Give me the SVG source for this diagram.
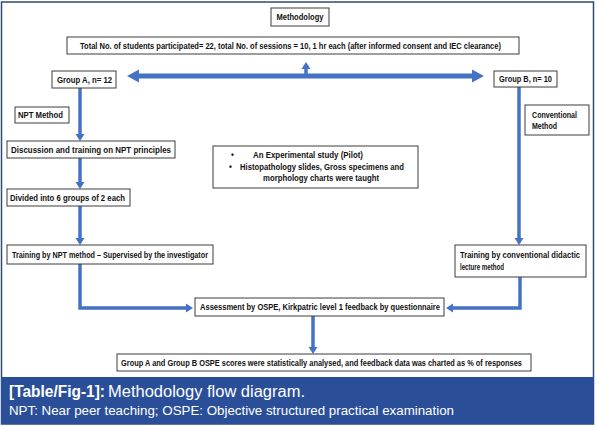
<svg xmlns="http://www.w3.org/2000/svg" width="597" height="428" viewBox="0 0 597 428">
<style>
.box{fill:#fff;stroke:#3c3c3c;stroke-width:1}
.t{font-family:"Liberation Sans",Arial,sans-serif;font-weight:bold;font-size:8.2px;fill:#111}
.c{fill:none;stroke:#4472c4;stroke-width:3.5}
.cw{fill:none;stroke:#4472c4;stroke-width:5}
.cap{font-family:"Liberation Sans",Arial,sans-serif;fill:#fff}
</style>
<defs>
<marker id="ah" markerUnits="userSpaceOnUse" markerWidth="10" markerHeight="10" viewBox="0 -5 7 10" refX="0" refY="0" orient="auto">
<path d="M0,-4.5 L7,0 L0,4.5 z" fill="#4472c4"/>
</marker>
<marker id="ahb" markerUnits="userSpaceOnUse" markerWidth="12" markerHeight="14" viewBox="0 -7 12 14" refX="0" refY="0" orient="auto-start-reverse">
<path d="M0,-6.5 L12,0 L0,6.5 z" fill="#4472c4"/>
</marker>
</defs>
<rect x="0" y="0" width="597" height="428" fill="#fff"/>
<rect x="1.5" y="2" width="592" height="422" fill="none" stroke="#2f4b70" stroke-width="1.5"/>
<rect x="1" y="377" width="593" height="47" fill="#2a4f98"/>
<text class="cap" x="9" y="397" font-size="16"><tspan font-weight="bold" textLength="96" lengthAdjust="spacingAndGlyphs">[Table/Fig-1]:</tspan><tspan x="108" textLength="197" lengthAdjust="spacingAndGlyphs">Methodology flow diagram.</tspan></text>
<text class="cap" x="9" y="415" font-size="12" textLength="445" lengthAdjust="spacingAndGlyphs">NPT: Near peer teaching; OSPE: Objective structured practical examination</text>

<g id="connectors">
<line class="cw" x1="139" y1="76" x2="472" y2="76" marker-start="url(#ahb)" marker-end="url(#ahb)"/>
<line class="c" x1="306" y1="78" x2="306" y2="69" marker-end="url(#ah)"/>
<line class="c" x1="80" y1="88" x2="80" y2="134" marker-end="url(#ah)"/>
<line class="c" x1="80" y1="158" x2="80" y2="182" marker-end="url(#ah)"/>
<line class="c" x1="80" y1="206" x2="80" y2="238" marker-end="url(#ah)"/>
<polyline class="c" points="80,264 80,308 186,308" marker-end="url(#ah)"/>
<line class="c" x1="519" y1="87" x2="519" y2="238" marker-end="url(#ah)"/>
<polyline class="c" points="520,277 520,308 453,308" marker-end="url(#ah)"/>
<line class="c" x1="313" y1="316" x2="313" y2="347" marker-end="url(#ah)"/>
</g>

<g id="methodology"><rect class="box" x="271" y="8" width="58" height="18"/><text class="t" x="276.5" y="20" textLength="47" lengthAdjust="spacingAndGlyphs">Methodology</text></g>
<g id="total"><rect class="box" x="67" y="37" width="452" height="17"/><text class="t" x="80" y="48.5" textLength="421" lengthAdjust="spacingAndGlyphs">Total No. of students participated= 22, total No. of sessions = 10, 1 hr each (after informed consent and IEC clearance)</text></g>
<g id="groupA"><rect class="box" x="52" y="71" width="64" height="17"/><text class="t" x="57" y="82.5" textLength="55" lengthAdjust="spacingAndGlyphs">Group A, n= 12</text></g>
<g id="groupB"><rect class="box" x="494" y="71" width="63" height="16"/><text class="t" x="499" y="82" textLength="53" lengthAdjust="spacingAndGlyphs">Group B, n= 10</text></g>
<g id="nptMethod"><rect class="box" x="15" y="107" width="54" height="16"/><text class="t" x="18" y="118" textLength="45" lengthAdjust="spacingAndGlyphs">NPT Method</text></g>
<g id="discussion"><rect class="box" x="7" y="141" width="168" height="17"/><text class="t" x="11" y="152.5" textLength="160" lengthAdjust="spacingAndGlyphs">Discussion and training on NPT principles</text></g>
<g id="divided"><rect class="box" x="7" y="189" width="123" height="17"/><text class="t" x="10" y="200.5" textLength="115" lengthAdjust="spacingAndGlyphs">Divided into 6 groups of 2 each</text></g>
<g id="trainingNPT"><rect class="box" x="7" y="245" width="206" height="19"/><text class="t" x="12" y="257.5" textLength="196" lengthAdjust="spacingAndGlyphs">Training by NPT method – Supervised by the investigator</text></g>
<g id="conventional"><rect class="box" x="525" y="105" width="64" height="30"/><text class="t" x="532" y="117.5" textLength="45" lengthAdjust="spacingAndGlyphs">Conventional</text><text class="t" x="532" y="128.5" textLength="25" lengthAdjust="spacingAndGlyphs">Method</text></g>
<g id="trainingConv"><rect class="box" x="455" y="245" width="131" height="32"/><text class="t" x="460" y="257.5" textLength="120" lengthAdjust="spacingAndGlyphs">Training by conventional didactic</text><text class="t" x="460" y="269.5" textLength="44" lengthAdjust="spacingAndGlyphs">lecture method</text></g>
<g id="studyInfo"><rect class="box" x="213" y="146" width="205" height="42"/>
<text class="t" x="231" y="158">•<tspan x="253" textLength="110" lengthAdjust="spacingAndGlyphs">An Experimental study (Pilot)</tspan></text>
<text class="t" x="229" y="169.5">•<tspan x="240" textLength="164" lengthAdjust="spacingAndGlyphs">Histopathology slides, Gross specimens and</tspan></text>
<text class="t" x="263" y="181" textLength="116" lengthAdjust="spacingAndGlyphs">morphology charts were taught</text></g>
<g id="assessment"><rect class="box" x="195" y="298" width="249" height="18"/><text class="t" x="200" y="310" textLength="240" lengthAdjust="spacingAndGlyphs">Assessment by OSPE, Kirkpatric level 1 feedback by questionnaire</text></g>
<g id="final"><rect class="box" x="117" y="354" width="414" height="17"/><text class="t" x="121" y="365.5" textLength="401" lengthAdjust="spacingAndGlyphs">Group A and Group B OSPE scores were statistically analysed, and feedback data was charted as % of responses</text></g>
</svg>
